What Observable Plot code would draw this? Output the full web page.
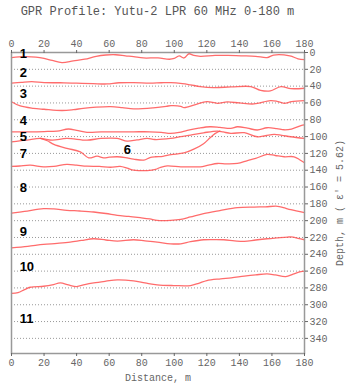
<!DOCTYPE html>
<html>
<head>
<meta charset="utf-8">
<script src="https://cdn.jsdelivr.net/npm/d3@7"></script>
<script src="https://cdn.jsdelivr.net/npm/@observablehq/plot@0.6"></script>
<style>
  body { margin: 0; background: white; }
  #title { width: 315px; height: 26px; line-height: 24px; text-align: center;
           font-family: "Liberation Mono", "DejaVu Sans Mono", monospace; font-size: 12px; color: #555; white-space: nowrap; }
</style>
</head>
<body>
<div id="title">GPR Profile: Yutu-2 LPR 60 MHz 0-180 m</div>
<div id="chart"></div>
<script>
// Distance ticks (m) and depth ticks (m)
const xTicks = [0, 20, 40, 60, 80, 100, 120, 140, 160, 180];
const yTicks = [0, 20, 40, 60, 80, 100, 120, 140, 160, 180, 200, 220, 240, 260, 280, 300, 320, 340];

// Horizons: [distance m, depth m]
const h1 = [[0,6],[8,5],[15,5.5],[20,7],[25,9.5],[31,12],[38,10],[45,8],[52,4.5],[58,3],[64,2.7],[70,4],[75,5],[81,6.5],[90,6.5],[97,8],[100,7],[103,4],[106,6.5],[109,1.5],[112,3.5],[116,4.5],[125,3.5],[133,3.5],[141,4],[150,4.5],[157,6],[161,3],[171,4],[176,7.5],[180,8.5]];
const h2 = [[0,36.5],[6,35.5],[12.5,34.6],[20,35.8],[30,36],[40,36.5],[50,37],[58.7,37.4],[66,36],[75,35.8],[85,36.5],[92,36],[98,35.8],[105,37],[110,38.5],[116,40.5],[124,41.7],[135,41],[147,40.5],[153,45],[159,45.7],[165.5,40.5],[171.6,43],[180,42.5]];
const h3 = [[0,58.5],[5.4,63.6],[13.5,66.4],[20,67.5],[31,69],[38,68],[44,66.4],[52,65],[61,64.4],[68,65.5],[75,67],[87,65.8],[95,64],[98,63.2],[104,64],[106,65.6],[113,62],[120,58.5],[126.5,60.4],[132.6,58.8],[140,60],[149,61.2],[159,57.3],[163,58],[167.5,60.4],[172,58.5],[180,57.3]];
const h4 = [[0,94.3],[10,94.3],[20,94],[28,93.4],[35,91],[40,92.5],[46.4,95],[55,94.5],[65,94.3],[75,94.3],[85,94.3],[92,95],[97.7,96.2],[103,95],[108,92.6],[115,90],[122,88.3],[128,89],[134.7,90.2],[138.8,88.3],[145,90],[151,92.2],[157,89.5],[163,90.5],[167.5,91.9],[172,91],[178.8,86.3],[180,86]];
const h5 = [[0,106.2],[5,105],[9.5,104.2],[17.7,102.2],[25,104.2],[34,102.2],[46.4,104.2],[55,102.2],[65,102.2],[71,105.4],[77,104],[83.4,102.2],[88,103.5],[97.7,102.2],[104,100],[110,98.2],[118,95.5],[126.5,93.4],[130,94.5],[134.7,96.2],[143,95.4],[151,100.2],[156,99],[161.3,97.4],[166,98.5],[171.6,100.2],[180,102.2]];
const h6 = [[17.7,102],[22,105],[26,109.3],[34,114],[42.3,118.1],[47.4,125.3],[52.6,123.3],[56.6,125.3],[60,124.5],[65,124],[70,125],[75,126.8],[81.3,128],[85,125],[88.5,124],[93,123.5],[98,121.5],[106,119.5],[112,115],[118,108.5],[122,101.5],[125,96.5],[128,93.4]];
const h7 = [[0,135.5],[5,135],[11.5,134],[19.7,136],[26,135.5],[34,133],[40,134],[46.4,135.2],[54,135.5],[60.8,136.5],[66.7,135.5],[71,137.5],[75,140],[79,140.5],[83.4,140.5],[88.5,139],[91.6,136.5],[95.7,134.8],[104,136],[110,136],[116,136],[121,134],[126.5,132],[132,132.5],[138.8,132],[145,128.5],[150,126],[157,121.2],[162,122.5],[167.5,124],[173.6,124],[177,127.5],[180,131.2]];
const h8 = [[0,191],[8,189],[19.7,185.7],[26,186],[34,187.7],[42,188.5],[50.5,189.7],[58,191.5],[65,193.7],[72,195],[79,196.5],[85,198],[89.5,199.6],[97.7,199.6],[104,198.4],[110,195.5],[118,191.6],[128,188],[138.8,184.5],[149,183.8],[156,183.5],[163.4,182.9],[167,184.5],[171.6,186.9],[180,190.5]];
const h9 = [[0,232.3],[10,230.5],[19.7,228.3],[28,227],[36,225.5],[43,223.5],[50.5,221.5],[58,223],[65,224.3],[75,222.7],[82,224],[89.5,225.5],[97.7,227.5],[104,227.5],[110,225],[118,222.7],[125,222.5],[130.5,222.7],[137,224],[143,224.7],[150,223],[157,221.5],[163,220.5],[169.6,219.5],[173,219.5],[176,221],[180,222.7]];
const h10 = [[0,286.4],[4,285.5],[8,282],[11.5,279.2],[19.7,278],[25,276.5],[30,274],[35,276.5],[40,278.4],[45,276],[50.5,274],[58,272],[65,270.4],[75,271.6],[82,274],[89.5,276.4],[99.7,277.2],[110,277.2],[115,274.5],[120,271.2],[128.5,269.2],[135,268],[143,266],[150,264.5],[157,263.3],[162,264.5],[168.5,266.5],[173,263.5],[177.8,260.5],[180,260]];

// Layer labels
const labelText = ["1","2","3","4","5","6","7","8","9","10","11"];
const labelX    = [5, 5, 5, 5, 5, 69, 5, 5, 5, 5, 5];
const labelY    = [1, 24.7, 49, 81.7, 100.7, 116.3, 121, 161.5, 212.8, 255.3, 317];

const horizons = [h1, h2, h3, h4, h5, h6, h7, h8, h9, h10];
const labels = labelText.map((t, i) => ({t, x: labelX[i], y: labelY[i]}));

const lineStyle = {x: d => d[0], y: d => d[1], stroke: "#ff5252", strokeWidth: 1.3, strokeOpacity: 0.85, curve: "catmull-rom"};

const chart = Plot.plot({
  width: 357,
  height: 365,
  marginTop: 26,
  marginBottom: 38,
  marginLeft: 11,
  marginRight: 53,
  x: {domain: [0, 180]},
  y: {domain: [0, 358], reverse: true},
  style: {fontFamily: '"Liberation Mono", "DejaVu Sans Mono", monospace', fontSize: "10px", color: "#666", background: "white"},
  marks: [
    Plot.gridY(yTicks, {stroke: "#999", strokeOpacity: 1, strokeDasharray: "1,2"}),
    ...horizons.map(h => Plot.line(h, lineStyle)),
    Plot.frame({stroke: "#999", strokeWidth: 1.5}),
    Plot.axisX(xTicks, {anchor: "top", tickSize: 3, tickPadding: 3, label: null}),
    Plot.axisX(xTicks, {anchor: "bottom", tickSize: 3, tickPadding: 2, label: "Distance, m", labelAnchor: "center", labelOffset: 27, labelArrow: "none"}),
    Plot.axisY(yTicks, {anchor: "right", tickSize: 3, tickPadding: 2, label: "Depth, m ( ε′ = 5.62)", labelAnchor: "center", labelOffset: 38, labelArrow: "none"}),
    Plot.text(labels, {x: "x", y: "y", text: "t", textAnchor: "start", fontFamily: '"Liberation Sans", Arial, sans-serif', fontWeight: "bold", fontSize: 13, fill: "black"})
  ]
});
document.getElementById("chart").appendChild(chart);
</script>
</body>
</html>
